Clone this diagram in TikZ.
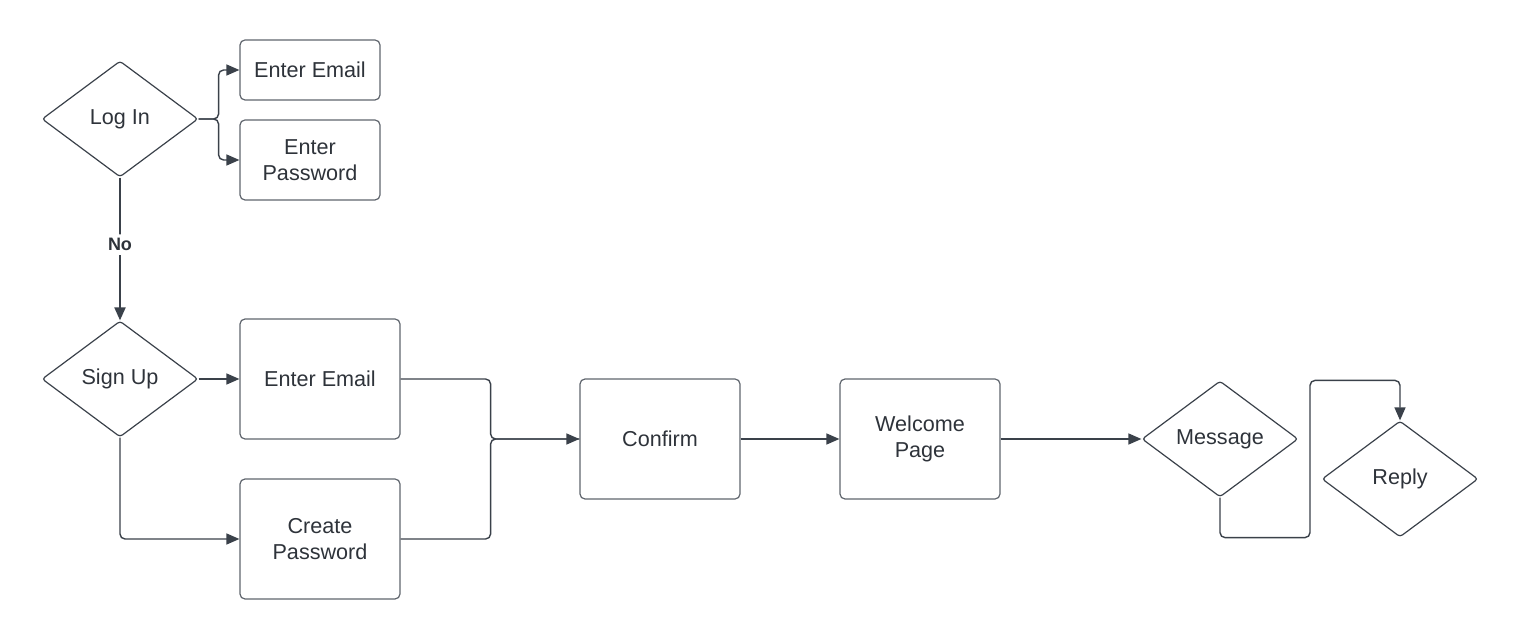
\documentclass[tikz,border=0pt]{standalone}
\usepackage{fontspec}
\setmainfont{Liberation Sans}
\usetikzlibrary{positioning, calc, shapes.geometric, arrows.meta}

\definecolor{edgecol}{HTML}{3A414A}
\definecolor{boxcol}{HTML}{5F656D}
\definecolor{txtcol}{HTML}{2E333A}

\begin{document}
\begin{tikzpicture}[x=0.5pt, y=-0.5pt, >={Triangle[length=6.5pt,width=5.5pt]}, on grid,
	font=\fontsize{10.8}{13}\selectfont,
	box/.style={draw=boxcol, line width=0.6pt, rounded corners=2.5pt, text=txtcol, align=center, minimum width=80pt, minimum height=60pt, inner sep=2pt},
	smallbox/.style={box, minimum width=70pt, minimum height=30pt},
	midbox/.style={box, minimum width=70pt, minimum height=40pt},
	decision/.style={diamond, draw=edgecol, line width=0.6pt, rounded corners=1.5pt, text=txtcol, minimum width=78pt, minimum height=58pt, inner sep=0pt},
	link/.style={draw=edgecol, line width=0.7pt, rounded corners=2.5pt}
	]
	\useasboundingbox (0,0) rectangle (1520,640);

	\node[decision]								(A) at (120,119)					{Log In};
	\node[smallbox]								(B) [above right=24.5pt and 95pt of A]	{Enter Email};
	\node[midbox]								(C) [below right=20.5pt and 95pt of A]	{Enter\\Password};
	\node[decision]								(D) [below=130pt of A]			{Sign Up};
	\node[box]									(E) [right=100pt of D]			{Enter Email};
	\node[box]									(F) [below=80pt of E]				{Create\\Password};
	\node[box]									(G) [below right=30pt and 170pt of E]	{Confirm};
	\node[box]									(H) [right=130pt of G]			{Welcome\\Page};
	\node[decision]								(I) [right=150pt of H]			{Message};
	\node[decision]								(J) [below right=20pt and 90pt of I]	{Reply};

	%Log In
	\draw[link, ->] (A.east) -- ++(20,0) |- (B.west);
	\draw[link, ->] (A.east) -- ++(20,0) |- (C.west);
	\draw[link, ->, line width=1pt] (A.south) -- node[pos=0.47, anchor=center, fill=white, inner sep=2pt, font=\fontsize{9}{10}\selectfont\bfseries, text=txtcol] {No} (D.north);

	%Sign Up
	\draw[link, ->] (D.east) -- (E.west);
	\draw[link, ->] (D.south) |- (F.west);
	\draw[link] (F.east) -- ++(90,0) |- (G.west);
	\draw[link, ->] (E.east) -- ++(90,0) |- (G.west);

	%Confirm -> Reply
	\draw[link, ->] (G) -- (H);
	\draw[link, ->] (H) -- (I);
	\draw[link, ->] (I.south) -- ++(0,40) -| ($(I.north)+(90,0)$) -| (J.north);
\end{tikzpicture}
\end{document}
